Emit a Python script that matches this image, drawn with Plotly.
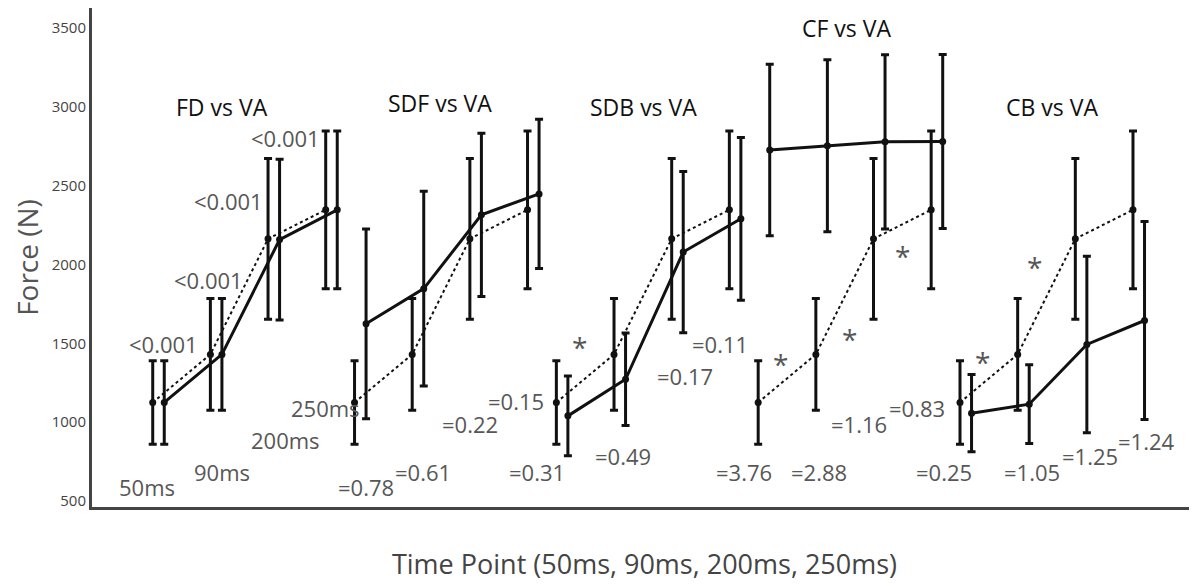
import plotly.graph_objects as go

# ---------------- data ----------------
groups = ["FD", "SDF", "SDB", "CF", "CB"]
time_points = ["50ms", "90ms", "200ms", "250ms"]

va_mean = [1125, 1430, 2163, 2347]
va_err = [265, 355, 510, 500]

fd_mean = [1125, 1430, 2158, 2347]
fd_err = [265, 355, 510, 500]
sdf_mean = [1624, 1847, 2315, 2448]
sdf_err = [602, 617, 518, 473]
sdb_mean = [1040, 1272, 2079, 2290]
sdb_err = [253, 293, 511, 516]
cf_mean = [2726, 2753, 2778, 2780]
cf_err = [544, 545, 553, 552]
cb_mean = [1057, 1114, 1493, 1645]
cb_err = [245, 250, 560, 628]

comp_means = [fd_mean, sdf_mean, sdb_mean, cf_mean, cb_mean]
comp_errs = [fd_err, sdf_err, sdb_err, cf_err, cb_err]

group_titles = ["FD vs VA", "SDF vs VA", "SDB vs VA", "CF vs VA", "CB vs VA"]

fd_labels = ["<0.001", "<0.001", "<0.001", "<0.001"]
sdf_labels = ["=0.78", "=0.61", "=0.22", "=0.15"]
sdb_labels = ["=0.31", "=0.49", "=0.17", "=0.11"]
cf_labels = ["=3.76", "=2.88", "=1.16", "=0.83"]
cb_labels = ["=0.25", "=1.05", "=1.25", "=1.24"]

y_ticks = [500, 1000, 1500, 2000, 2500, 3000, 3500]

# ---------------- layout helpers ----------------
GROUP_STEP = 3.5
PAIR_OFFSET = 0.2
INK = "#111111"
GRAY = "#575757"
FONT = "Open Sans"

fig = go.Figure()

for g, name in enumerate(groups):
    xs_va = [g * GROUP_STEP + t for t in range(len(time_points))]
    xs_c = [x + PAIR_OFFSET for x in xs_va]
    fig.add_trace(go.Scatter(
        x=xs_va, y=va_mean, mode="lines+markers", name="VA",
        line=dict(color=INK, width=2, dash="dot"),
        marker=dict(color=INK, size=7),
        error_y=dict(type="data", array=va_err, visible=True,
                     color=INK, thickness=3, width=4),
        showlegend=False,
    ))
    fig.add_trace(go.Scatter(
        x=xs_c, y=comp_means[g], mode="lines+markers", name=name,
        line=dict(color=INK, width=3),
        marker=dict(color=INK, size=7),
        error_y=dict(type="data", array=comp_errs[g], visible=True,
                     color=INK, thickness=3, width=4),
        showlegend=False,
    ))

# ---------------- annotations (text placement) ----------------
title_pos = [(1.21, 3002), (4.99, 3023), (8.51, 3002), (12.04, 3498), (15.6, 2998)]
label_sets = [time_points, fd_labels, sdf_labels, sdb_labels, cf_labels, cb_labels]
label_pos = [
    [(-0.10, 587), (1.20, 682), (2.30, 888), (2.99, 1087)],
    [(0.18, 1494), (0.97, 1899), (1.32, 2401), (2.31, 2802)],
    [(3.70, 587), (4.68, 682), (5.50, 987), (6.30, 1135)],
    [(6.67, 682), (8.16, 787), (9.23, 1293), (9.83, 1494)],
    [(10.26, 682), (11.55, 682), (12.24, 987), (13.25, 1087)],
    [(13.72, 682), (15.25, 682), (16.26, 787), (17.24, 882)],
]
star_pos = [(7.40, 1515), (10.88, 1409), (12.09, 1568), (13.0, 2095),
            (14.39, 1420), (15.29, 2025)]

annotations = []
for text, (x, y) in zip(group_titles, title_pos):
    annotations.append(dict(x=x, y=y, text=text, showarrow=False,
                            font=dict(family=FONT, size=23, color=INK)))
for labels, poss in zip(label_sets, label_pos):
    for text, (x, y) in zip(labels, poss):
        annotations.append(dict(x=x, y=y, text=text, showarrow=False,
                                font=dict(family=FONT, size=22, color=GRAY)))
for (x, y) in star_pos:
    annotations.append(dict(x=x, y=y, text="*", showarrow=False, yshift=-6,
                            font=dict(family=FONT, size=28, color=GRAY)))

# the page body adds an 8px margin, so the figure is sized to fit the window
fig.update_layout(
    width=1189, height=576,
    margin=dict(l=84, r=0, t=0, b=77),
    paper_bgcolor="white", plot_bgcolor="white",
    font=dict(family=FONT, color="#444444"),
    annotations=annotations,
    xaxis=dict(range=[-1.053, 18.11], showticklabels=False, showgrid=False,
               zeroline=False, showline=True, linecolor="#444444", linewidth=3,
               ticks="", automargin=False,
               title=dict(text="Time Point (50ms, 90ms, 200ms, 250ms)",
                          font=dict(family=FONT, size=27, color="#444444"),
                          standoff=47)),
    yaxis=dict(range=[462, 3627], tickvals=y_ticks, showgrid=False,
               zeroline=False, showline=True, linecolor="#444444", linewidth=3,
               ticks="", automargin=False,
               tickfont=dict(family=FONT, size=15, color="#444444"),
               title=dict(text="Force (N)",
                          font=dict(family=FONT, size=28, color="#555555"),
                          standoff=9)),
)

fig.write_html("out.html")
